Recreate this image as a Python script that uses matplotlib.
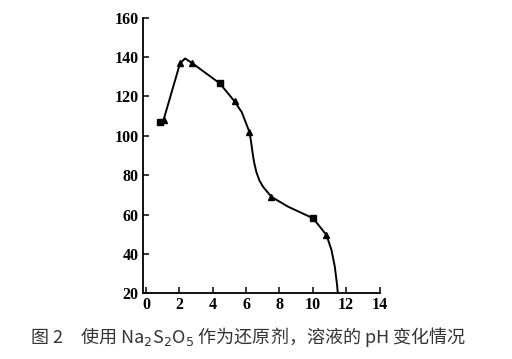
import matplotlib
matplotlib.use("Agg")
import matplotlib.pyplot as plt

# smooth curve
curve_x = [0.84, 1.05, 2.04, 2.34, 2.74, 4.43, 5.31, 5.74, 6.2, 6.3, 6.38, 6.47, 6.62, 6.8, 7.02, 7.52, 8.52, 10.02, 10.82, 11.12, 11.32, 11.46, 11.5]
curve_y = [107, 108, 136.8, 139.3, 137.1, 126.6, 117.5, 112, 102, 97, 92, 87, 81.5, 77.3, 74.1, 69, 64, 58.1, 49.6, 42, 33.5, 24, 20]

# markers
tri_x = [1.05, 2.04, 2.74, 5.31, 6.2, 7.52, 10.82]
tri_y = [108, 136.8, 137.1, 117.5, 102, 69, 49.6]
sq_x = [0.84, 4.43, 10.02]
sq_y = [107, 126.6, 58.1]

xticks = [0, 2, 4, 6, 8, 10, 12, 14]
yticks = [20, 40, 60, 80, 100, 120, 140, 160]

fig = plt.figure(figsize=(5.12, 3.59), dpi=100)
ax = fig.add_axes([143/512, 1-293.3/359, (379.5-143)/512, (293.3-17.7)/359])

ax.plot(curve_x, curve_y, color="black", lw=1.4, solid_joinstyle="round")
ax.plot(tri_x, tri_y, ls="none", marker="^", ms=5, color="black")
ax.plot(sq_x, sq_y, ls="none", marker="s", ms=4.5, color="black")

ax.set_xlim(-0.18, 14.0)
ax.set_ylim(20, 160)
ax.set_xticks(xticks)
ax.set_yticks(yticks)
ax.spines["top"].set_visible(False)
ax.spines["right"].set_visible(False)
for s in ["left", "bottom"]:
    ax.spines[s].set_linewidth(1.3)
ax.tick_params(direction="in", length=4, width=1.1, pad=3)
for lab in ax.get_xticklabels() + ax.get_yticklabels():
    lab.set_fontfamily("Liberation Serif")
    lab.set_fontsize(11.5)
    lab.set_fontweight("bold")

fig.text(248/512, 1-337/359, "图 2　使用 Na$_2$S$_2$O$_5$ 作为还原剂，溶液的 pH 变化情况",
         ha="center", va="center", fontsize=13, color="#333333",
         family=["Noto Sans CJK SC", "DejaVu Sans"])

fig.savefig("out.png", dpi=100)
